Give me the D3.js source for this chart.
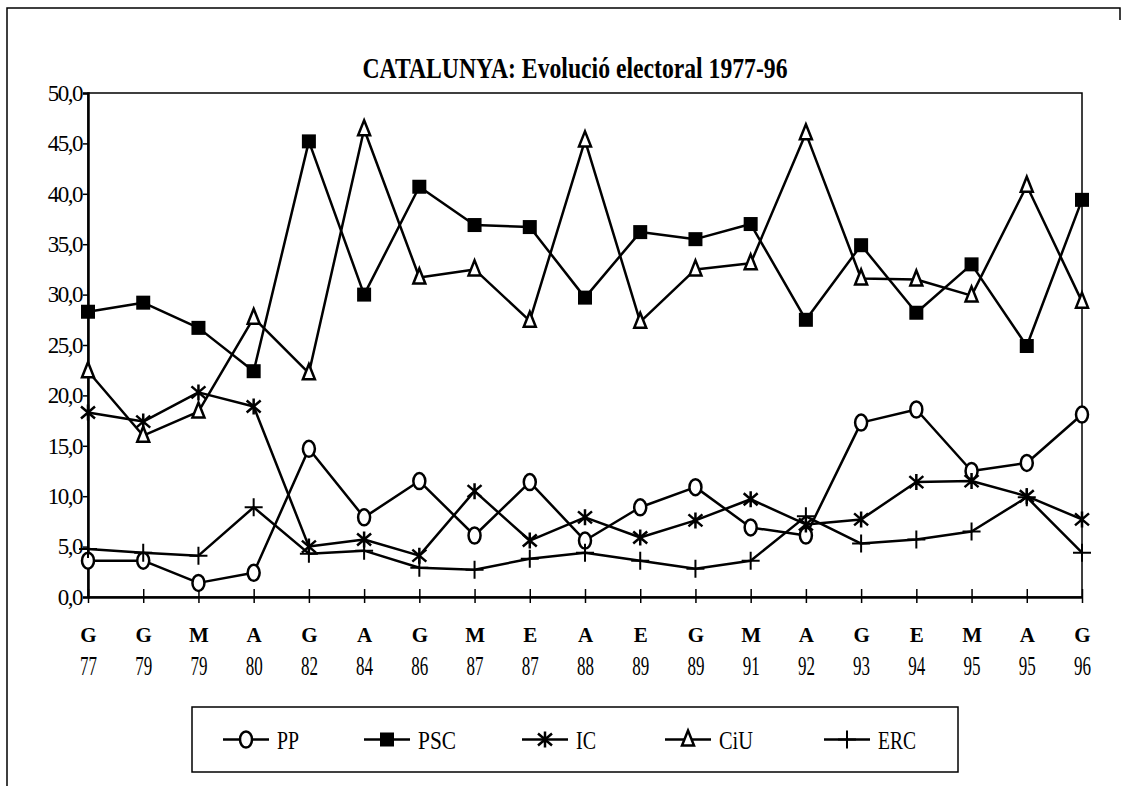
<!DOCTYPE html>
<html>
<head>
<meta charset="utf-8">
<script src="https://cdn.jsdelivr.net/npm/d3@7"></script>
<style>
  body { margin: 0; background: white; }
  svg { display: block; }
  text { font-family: 'Liberation Serif', 'Times New Roman', serif; fill: black; }
</style>
</head>
<body>
<div id="chart"></div>
<script>
const elecType = ['G', 'G', 'M', 'A', 'G', 'A', 'G', 'M', 'E', 'A', 'E', 'G', 'M', 'A', 'G', 'E', 'M', 'A', 'G'];
const elecYear = ['77', '79', '79', '80', '82', '84', '86', '87', '87', '88', '89', '89', '91', '92', '93', '94', '95', '95', '96'];

const pp  = [3.6, 3.6, 1.4, 2.4, 14.7, 7.9, 11.5, 6.1, 11.4, 5.6, 8.9, 10.9, 6.9, 6.1, 17.3, 18.6, 12.5, 13.3, 18.1];
const psc = [28.3, 29.2, 26.7, 22.4, 45.2, 30.0, 40.7, 36.9, 36.7, 29.7, 36.2, 35.5, 37.0, 27.5, 34.9, 28.2, 33.0, 24.9, 39.4];
const ic  = [18.3, 17.4, 20.3, 18.9, 5.0, 5.7, 4.1, 10.5, 5.6, 7.9, 5.9, 7.6, 9.7, 7.2, 7.7, 11.4, 11.5, 10.0, 7.7];
const ciu = [22.4, 16.0, 18.4, 27.7, 22.2, 46.4, 31.7, 32.5, 27.4, 45.3, 27.3, 32.5, 33.1, 46.0, 31.6, 31.5, 29.9, 40.8, 29.3];
const erc = [4.75, 4.4, 4.1, 8.9, 4.3, 4.6, 2.9, 2.7, 3.8, 4.4, 3.6, 2.8, 3.6, 8.0, 5.3, 5.7, 6.5, 9.9, 4.4];

const seriesNames = ['PP', 'PSC', 'IC', 'CiU', 'ERC'];
const seriesValues = [pp, psc, ic, ciu, erc];
const seriesMarks = ['oval', 'square', 'asterisk', 'triangle', 'plus'];

const width = 1124;
const height = 786;
const plot = {left: 88, right: 1082, top: 93, bottom: 597};

const svg = d3.select('#chart')
  .append('svg')
  .attr('width', width)
  .attr('height', height);

// page frame (only top-left part is visible in the scan)
svg.append('path')
  .attr('d', `M7,${height} V8 H1120 V20`)
  .attr('fill', 'none')
  .attr('stroke', 'black')
  .attr('stroke-width', 1.5);

const xScale = d3.scalePoint()
  .domain(d3.range(elecType.length))
  .range([plot.left, plot.right]);

const yScale = d3.scaleLinear()
  .domain([0, 50])
  .range([plot.bottom, plot.top]);

// title
svg.append('text')
  .attr('x', 575)
  .attr('y', 78)
  .attr('text-anchor', 'middle')
  .attr('font-size', 30)
  .attr('font-weight', 'bold')
  .attr('textLength', 425)
  .attr('lengthAdjust', 'spacingAndGlyphs')
  .text('CATALUNYA: Evolució electoral 1977-96');

// plot box
svg.append('rect')
  .attr('x', plot.left)
  .attr('y', plot.top)
  .attr('width', plot.right - plot.left)
  .attr('height', plot.bottom - plot.top)
  .attr('fill', 'none')
  .attr('stroke', 'black')
  .attr('stroke-width', 1.5);

// y axis
const yAxis = d3.axisLeft(yScale)
  .tickValues(d3.range(0, 51, 5))
  .tickFormat(d => d3.format('.1f')(d).replace('.', ','))
  .tickSize(5)
  .tickPadding(1);

const yAxisElement = svg.append('g')
  .attr('transform', `translate(${plot.left},0)`)
  .call(yAxis);

yAxisElement.select('.domain').attr('stroke', 'black').attr('stroke-width', 2.5);
yAxisElement.selectAll('line').attr('stroke', 'black').attr('stroke-width', 1.5);
yAxisElement.selectAll('text')
  .attr('font-size', 23)
  .attr('font-family', "'Liberation Serif', serif")
  .attr('letter-spacing', -1.5);

// x axis
const xAxis = d3.axisBottom(xScale)
  .tickFormat(i => elecType[i])
  .tickSizeOuter(0);

const xAxisElement = svg.append('g')
  .attr('transform', `translate(0,${plot.bottom})`)
  .call(xAxis);

xAxisElement.select('.domain').attr('stroke', 'black').attr('stroke-width', 2.5);
xAxisElement.selectAll('line')
  .attr('stroke', 'black')
  .attr('stroke-width', 1.5)
  .attr('y1', -8)
  .attr('y2', 6);
xAxisElement.selectAll('text')
  .attr('y', 45)
  .attr('dy', 0)
  .attr('font-size', 21)
  .attr('font-weight', 'bold')
  .attr('font-family', "'Liberation Serif', serif");

xAxisElement.selectAll('.tick')
  .append('text')
  .attr('y', 78)
  .attr('text-anchor', 'middle')
  .attr('font-size', 27)
  .attr('font-family', "'Liberation Serif', serif")
  .attr('fill', 'black')
  .attr('textLength', 17)
  .attr('lengthAdjust', 'spacingAndGlyphs')
  .text(i => elecYear[i]);

// markers
function drawMark(g, kind, cx, cy) {
  if (kind === 'oval') {
    g.append('ellipse')
      .attr('cx', cx).attr('cy', cy)
      .attr('rx', 6).attr('ry', 8)
      .attr('fill', 'white').attr('stroke', 'black').attr('stroke-width', 2.5);
  } else if (kind === 'square') {
    g.append('rect')
      .attr('x', cx - 7).attr('y', cy - 7)
      .attr('width', 14).attr('height', 14)
      .attr('fill', 'black');
  } else if (kind === 'triangle') {
    g.append('path')
      .attr('d', `M${cx},${cy - 9} L${cx + 6},${cy + 6} L${cx - 6},${cy + 6} Z`)
      .attr('fill', 'white').attr('stroke', 'black').attr('stroke-width', 2.5);
  } else if (kind === 'asterisk') {
    g.append('path')
      .attr('d', `M${cx},${cy - 8} V${cy + 8} M${cx - 7},${cy - 6} L${cx + 7},${cy + 6} M${cx - 7},${cy + 6} L${cx + 7},${cy - 6}`)
      .attr('fill', 'none').attr('stroke', 'black').attr('stroke-width', 2.5);
  } else if (kind === 'plus') {
    g.append('path')
      .attr('d', `M${cx},${cy - 9} V${cy + 9} M${cx - 9},${cy} H${cx + 9}`)
      .attr('fill', 'none').attr('stroke', 'black').attr('stroke-width', 2);
  }
}

const line = d3.line()
  .x((d, i) => xScale(i))
  .y(d => yScale(d));

const linesGroup = svg.append('g');
seriesValues.forEach(values => {
  linesGroup.append('path')
    .datum(values)
    .attr('fill', 'none')
    .attr('stroke', 'black')
    .attr('stroke-width', 2.5)
    .attr('stroke-linejoin', 'round')
    .attr('d', line);
});

const marksGroup = svg.append('g');
seriesValues.forEach((values, s) => {
  values.forEach((v, i) => drawMark(marksGroup, seriesMarks[s], xScale(i), yScale(v)));
});

// legend
const legendBox = {x: 192, y: 707, w: 766, h: 65};
const legendSymbolX = [246, 387, 545, 688, 847];
const legendTextLen = [22, 38, 20, 34, 38];

const legend = svg.append('g');
legend.append('rect')
  .attr('x', legendBox.x)
  .attr('y', legendBox.y)
  .attr('width', legendBox.w)
  .attr('height', legendBox.h)
  .attr('fill', 'none')
  .attr('stroke', 'black')
  .attr('stroke-width', 1.5);

const legendY = legendBox.y + legendBox.h / 2;
seriesNames.forEach((name, s) => {
  const cx = legendSymbolX[s];
  legend.append('line')
    .attr('x1', cx - 23).attr('x2', cx + 23)
    .attr('y1', legendY).attr('y2', legendY)
    .attr('stroke', 'black').attr('stroke-width', 2.5);
  drawMark(legend, seriesMarks[s], cx, legendY);
  legend.append('text')
    .attr('x', cx + 31)
    .attr('y', legendY + 9)
    .attr('font-size', 26)
    .attr('textLength', legendTextLen[s])
    .attr('lengthAdjust', 'spacingAndGlyphs')
    .text(name);
});
</script>
</body>
</html>
